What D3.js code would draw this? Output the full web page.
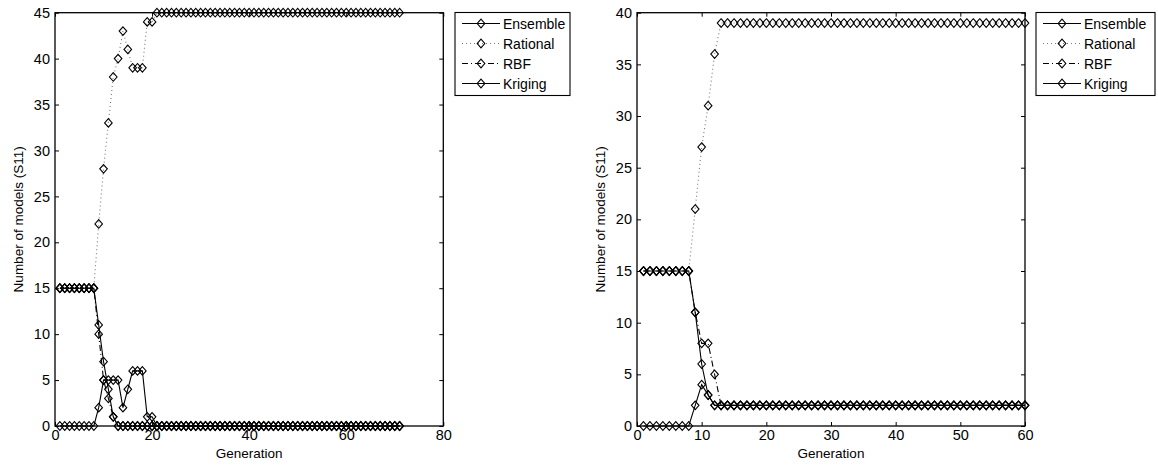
<!DOCTYPE html>
<html>
<head>
<meta charset="utf-8">
<script src="https://cdn.jsdelivr.net/npm/d3@7"></script>
<style>
  html, body { margin: 0; padding: 0; background: #fff; }
  svg { display: block; font-family: "Liberation Sans", Arial, Helvetica, sans-serif; }
</style>
</head>
<body>
<svg id="chart" width="1158" height="466"></svg>
<script>
// ---------- DATA ----------
const seriesNames = ["Ensemble", "Rational", "RBF", "Kriging"];

const leftGenerations = [1,2,3,4,5,6,7,8,9,10,11,12,13,14,15,16,17,18,19,20,
  21,22,23,24,25,26,27,28,29,30,31,32,33,34,35,36,37,38,39,40,
  41,42,43,44,45,46,47,48,49,50,51,52,53,54,55,56,57,58,59,60,
  61,62,63,64,65,66,67,68,69,70,71];
const leftEnsemble = [15,15,15,15,15,15,15,15,11,7,4,1,
  0,0,0,0,0,0,0,0,0,0, 0,0,0,0,0,0,0,0,0,0, 0,0,0,0,0,0,0,0,0,0,
  0,0,0,0,0,0,0,0,0,0, 0,0,0,0,0,0,0,0,0,0, 0,0,0,0,0,0,0,0,0];
const leftRational = [15,15,15,15,15,15,15,15,22,28,33,38,40,43,41,39,39,39,44,44,
  45,45,45,45,45,45,45,45,45,45, 45,45,45,45,45,45,45,45,45,45,
  45,45,45,45,45,45,45,45,45,45, 45,45,45,45,45,45,45,45,45,45,
  45,45,45,45,45,45,45,45,45,45, 45];
const leftRBF = [15,15,15,15,15,15,15,15,10,5,3,1,
  0,0,0,0,0,0,0,0,0,0, 0,0,0,0,0,0,0,0,0,0, 0,0,0,0,0,0,0,0,0,0,
  0,0,0,0,0,0,0,0,0,0, 0,0,0,0,0,0,0,0,0,0, 0,0,0,0,0,0,0,0,0];
const leftKriging = [0,0,0,0,0,0,0,0,2,5,5,5,5,2,4,6,6,6,1,1,
  0,0,0,0,0,0,0,0,0,0, 0,0,0,0,0,0,0,0,0,0, 0,0,0,0,0,0,0,0,0,0,
  0,0,0,0,0,0,0,0,0,0, 0,0,0,0,0,0,0,0,0,0, 0];

const rightGenerations = [1,2,3,4,5,6,7,8,9,10,11,12,13,14,15,16,17,18,19,20,
  21,22,23,24,25,26,27,28,29,30,31,32,33,34,35,36,37,38,39,40,
  41,42,43,44,45,46,47,48,49,50,51,52,53,54,55,56,57,58,59,60];
const rightEnsemble = [15,15,15,15,15,15,15,15,11,6,3,2,
  2,2,2,2,2,2,2,2,2,2, 2,2,2,2,2,2,2,2,2,2, 2,2,2,2,2,2,2,2,2,2,
  2,2,2,2,2,2,2,2,2,2, 2,2,2,2,2,2,2,2];
const rightRational = [15,15,15,15,15,15,15,15,21,27,31,36,
  39,39,39,39,39,39,39,39,39,39, 39,39,39,39,39,39,39,39,39,39, 39,39,39,39,39,39,39,39,39,39,
  39,39,39,39,39,39,39,39,39,39, 39,39,39,39,39,39,39,39];
const rightRBF = [15,15,15,15,15,15,15,15,11,8,8,5,
  2,2,2,2,2,2,2,2,2,2, 2,2,2,2,2,2,2,2,2,2, 2,2,2,2,2,2,2,2,2,2,
  2,2,2,2,2,2,2,2,2,2, 2,2,2,2,2,2,2,2];
const rightKriging = [0,0,0,0,0,0,0,0,2,4,3,2,
  2,2,2,2,2,2,2,2,2,2, 2,2,2,2,2,2,2,2,2,2, 2,2,2,2,2,2,2,2,2,2,
  2,2,2,2,2,2,2,2,2,2, 2,2,2,2,2,2,2,2];

const leftXTicks = [0, 20, 40, 60, 80];
const leftYTicks = [0, 5, 10, 15, 20, 25, 30, 35, 40, 45];
const rightXTicks = [0, 10, 20, 30, 40, 50, 60];
const rightYTicks = [0, 5, 10, 15, 20, 25, 30, 35, 40];

const xLabel = "Generation";
const yLabel = "Number of models (S11)";

// ---------- STYLES ----------
const lineStyles = {
  "Ensemble": { stroke: "#000", dash: null },
  "Rational": { stroke: "#777", dash: "1,3" },
  "RBF":      { stroke: "#000", dash: "6,3,1,3" },
  "Kriging":  { stroke: "#000", dash: null }
};

const svg = d3.select("#chart");
const diamond = "M0,-4.3L3.8,0L0,4.3L-3.8,0Z";

function drawPanel(cfg) {
  const x = d3.scaleLinear().domain(cfg.xDomain).range([cfg.left, cfg.right]);
  const y = d3.scaleLinear().domain(cfg.yDomain).range([cfg.bottom, cfg.top]);
  const g = svg.append("g");

  const tick = 4;
  const ax = [
    g.append("g").attr("transform", `translate(0,${cfg.bottom})`)
      .call(d3.axisBottom(x).tickValues(cfg.xTicks).tickSizeInner(-tick).tickSizeOuter(0).tickPadding(4).tickFormat(d3.format("d"))),
    g.append("g").attr("transform", `translate(0,${cfg.top})`)
      .call(d3.axisTop(x).tickValues(cfg.xTicks).tickSizeInner(-tick).tickSizeOuter(0).tickFormat("")),
    g.append("g").attr("transform", `translate(${cfg.left},0)`)
      .call(d3.axisLeft(y).tickValues(cfg.yTicks).tickSizeInner(-tick).tickSizeOuter(0).tickPadding(5).tickFormat(d3.format("d"))),
    g.append("g").attr("transform", `translate(${cfg.right},0)`)
      .call(d3.axisRight(y).tickValues(cfg.yTicks).tickSizeInner(-tick).tickSizeOuter(0).tickFormat(""))
  ];
  ax.forEach(a => {
    a.select(".domain").remove();
    a.selectAll("line").attr("stroke", "#000");
    a.selectAll("text").attr("font-size", 14.5).attr("fill", "#000")
      .attr("font-family", '"Liberation Sans", Arial, sans-serif');
  });

  const line = d3.line().x(d => x(d[0])).y(d => y(d[1]));
  cfg.series.forEach(s => {
    const pts = cfg.gens.map((gen, i) => [gen, s.values[i]]);
    const st = lineStyles[s.name];
    g.append("path").datum(pts).attr("d", line)
      .attr("fill", "none").attr("stroke", st.stroke).attr("stroke-width", 1.1)
      .attr("stroke-dasharray", st.dash);
    g.append("g").selectAll("path").data(pts).join("path")
      .attr("d", diamond)
      .attr("transform", d => `translate(${x(d[0])},${y(d[1])})`)
      .attr("fill", "none").attr("stroke", "#000").attr("stroke-width", 1.1);
  });

  g.append("rect").attr("x", cfg.left).attr("y", cfg.top)
    .attr("width", cfg.right - cfg.left).attr("height", cfg.bottom - cfg.top)
    .attr("fill", "none").attr("stroke", "#000").attr("stroke-width", 1.3);

  g.append("text").attr("x", (cfg.left + cfg.right) / 2).attr("y", 457.5)
    .attr("text-anchor", "middle").attr("font-size", 13.5).text(xLabel);
  g.append("text")
    .attr("transform", `translate(${cfg.yLabelX},${(cfg.top + cfg.bottom) / 2}) rotate(-90)`)
    .attr("text-anchor", "middle").attr("font-size", 13.5).text(yLabel);

  const L = cfg.legend;
  g.append("rect").attr("x", L.x).attr("y", L.y).attr("width", L.w).attr("height", L.h)
    .attr("fill", "#fff").attr("stroke", "#000").attr("stroke-width", 1.1);
  seriesNames.forEach((name, i) => {
    const cy = L.y + 11 + i * 20;
    const st = lineStyles[name];
    g.append("line").attr("x1", L.x + 7).attr("x2", L.x + 45).attr("y1", cy).attr("y2", cy)
      .attr("stroke", st.stroke).attr("stroke-width", 1.1).attr("stroke-dasharray", st.dash);
    g.append("path").attr("d", diamond).attr("transform", `translate(${L.x + 26},${cy})`)
      .attr("fill", "none").attr("stroke", "#000").attr("stroke-width", 1.1);
    g.append("text").attr("x", L.x + 48).attr("y", cy + 5).attr("font-size", 14).text(name);
  });
}

drawPanel({
  left: 55, right: 443.3, top: 12.7, bottom: 426,
  xDomain: [0, 80], yDomain: [0, 45],
  xTicks: leftXTicks, yTicks: leftYTicks,
  gens: leftGenerations,
  series: [
    { name: "Ensemble", values: leftEnsemble },
    { name: "Rational", values: leftRational },
    { name: "RBF", values: leftRBF },
    { name: "Kriging", values: leftKriging }
  ],
  yLabelX: 23,
  legend: { x: 455, y: 12.5, w: 115, h: 83 }
});

drawPanel({
  left: 637, right: 1025, top: 12.7, bottom: 426,
  xDomain: [0, 60], yDomain: [0, 40],
  xTicks: rightXTicks, yTicks: rightYTicks,
  gens: rightGenerations,
  series: [
    { name: "Ensemble", values: rightEnsemble },
    { name: "Rational", values: rightRational },
    { name: "RBF", values: rightRBF },
    { name: "Kriging", values: rightKriging }
  ],
  yLabelX: 605,
  legend: { x: 1036, y: 12.5, w: 119, h: 83 }
});
</script>
</body>
</html>
